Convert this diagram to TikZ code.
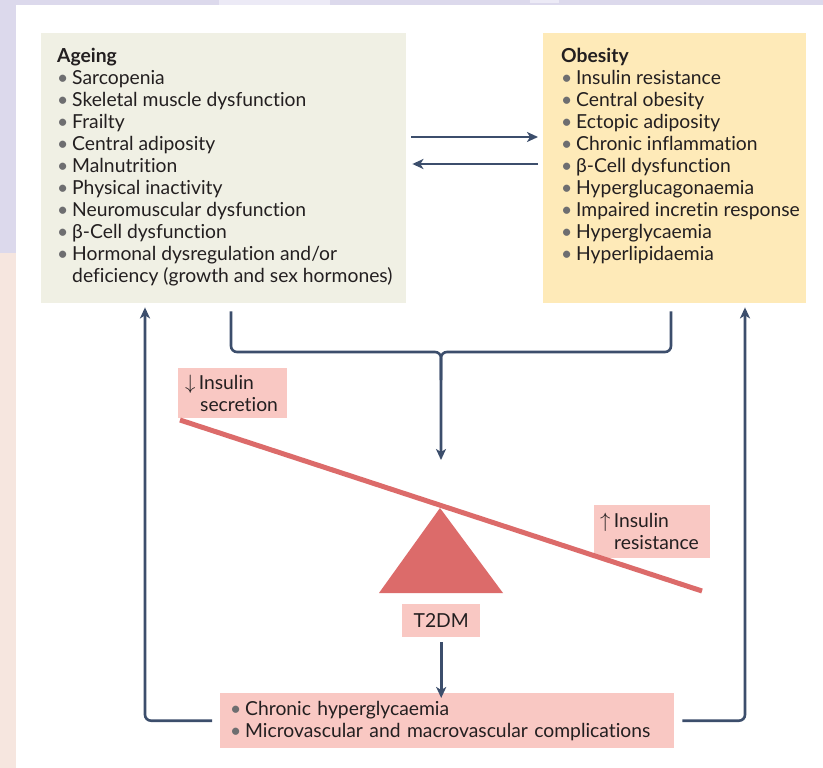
\documentclass[tikz,border=0pt]{standalone}
\usepackage{fontspec}
\setmainfont{Lato}[Ligatures=NoCommon]
\usetikzlibrary{arrows.meta, positioning, calc}

\definecolor{lavender}{HTML}{DCD9EC}
\definecolor{lavlight}{HTML}{ECEAF6}
\definecolor{peach}{HTML}{F6E6DF}
\definecolor{agefill}{HTML}{F0F0E4}
\definecolor{obefill}{HTML}{FEEAB8}
\definecolor{navy}{HTML}{3C4E6C}
\definecolor{pinkfill}{HTML}{F9C8C3}
\definecolor{beamred}{HTML}{DC6B6A}
\definecolor{bulgray}{HTML}{6E6E70}
\definecolor{txt}{HTML}{231F20}

\newcommand{\blt}{\makebox[15pt][l]{\textcolor{bulgray}{\textbullet}}}

\tikzset{
  panel/.style={inner sep=0pt, anchor=north west},
  listtext/.style={anchor=north west, align=left, inner sep=0pt, text=txt,
    font=\fontsize{19.3}{22}\selectfont},
  flow/.style={draw=navy, line width=2.6pt, rounded corners=6pt,
    -{Stealth[length=11pt,width=10pt,inset=3pt]}},
  bracket/.style={draw=navy, line width=2.6pt, rounded corners=6pt},
  pinkbox/.style={fill=pinkfill, text=txt, align=left, inner ysep=0pt,
    font=\fontsize{19.3}{22}\selectfont},
}

\begin{document}
\begin{tikzpicture}[x=1pt, y=-1pt]
	% background
	\useasboundingbox (0,0) rectangle (823,768);
	\fill[lavender] (0,0) rectangle (823,768);
	\fill[lavlight] (219,0) rectangle (330,5);
	\fill[lavlight] (530,0) rectangle (559,3);
	\fill[peach] (0,253) rectangle (16,768);
	\fill[white] (16,5) rectangle (823,768);

	% the two panels
	\node[panel, fill=agefill, minimum width=365pt, minimum height=270pt] (ageing) at (41,33) {};
	\node[panel, fill=obefill, minimum width=263pt, minimum height=270pt] (obesity) at (543,33) {};

	\node[listtext] (agelist) at ($(ageing.north west)+(16,15)$) {\textbf{Ageing}\\
		\blt Sarcopenia\\
		\blt Skeletal muscle dysfunction\\
		\blt Frailty\\
		\blt Central adiposity\\
		\blt Malnutrition\\
		\blt Physical inactivity\\
		\blt Neuromuscular dysfunction\\
		\blt β-Cell dysfunction\\
		\blt Hormonal dysregulation and/or\\
		\hspace*{15pt}deficiency (growth and sex hormones)};
	\node[listtext] (obelist) at ($(obesity.north west)+(18,15)$) {\textbf{Obesity}\\
		\blt Insulin resistance\\
		\blt Central obesity\\
		\blt Ectopic adiposity\\
		\blt Chronic inflammation\\
		\blt β-Cell dysfunction\\
		\blt Hyperglucagonaemia\\
		\blt Impaired incretin response\\
		\blt Hyperglycaemia\\
		\blt Hyperlipidaemia};

	% arrows between the panels
	\draw[flow] ($(ageing.north east)+(5,104)$) -- ($(obesity.north west)+(-5,104)$);
	\draw[flow] ($(obesity.north west)+(-5,131)$) -- ($(ageing.north east)+(6,131)$);

	% seesaw
	\coordinate (apex) at (440,508);
	\node[pinkbox, anchor=north west, inner xsep=7pt, text width=95pt, minimum height=50pt] (secretion) at (178,368)
		{$\downarrow$\,Insulin\\\hspace*{15pt}secretion};
	\node[pinkbox, anchor=north west, inner xsep=6pt, text width=104pt, minimum height=53pt] (resistance) at (594,505)
		{$\uparrow$\,Insulin\\\hspace*{14pt}resistance};
	\fill[beamred] (apex) -- (503,593) -- (379,593) -- cycle;
	\draw[beamred, line width=5pt] (180,420) -- (702,591);
	\node[pinkbox, anchor=north west, inner xsep=0pt, minimum width=78pt, minimum height=33pt, align=center] (t2dm) at (402,604) {T2DM};

	% outcome box
	\node[pinkbox, anchor=north west, inner xsep=10pt, text width=434pt, minimum height=55pt] (outcome) at (220,693)
		{\blt Chronic hyperglycaemia\\
		\blt Microvascular and macrovascular complications};

	% bracket into the seesaw
	\coordinate (tip) at (441,460);
	\draw[bracket] ($(obesity.south west)+(128,8)$) |- (441,352) -- (441,380);
	\draw[flow] ($(ageing.south west)+(190,8)$) |- (441,352) -- (tip);
	\draw[flow, rounded corners=0pt] ([yshift=-5pt]t2dm.south) -- ([yshift=-5pt]t2dm.south |- outcome.north);

	% feedback loops
	\draw[flow] ([xshift=-8pt]outcome.west) -| ($(ageing.south west)+(104,4)$);
	\draw[flow] ([xshift=8pt]outcome.east) -| ($(obesity.south west)+(202,4)$);
\end{tikzpicture}
\end{document}
